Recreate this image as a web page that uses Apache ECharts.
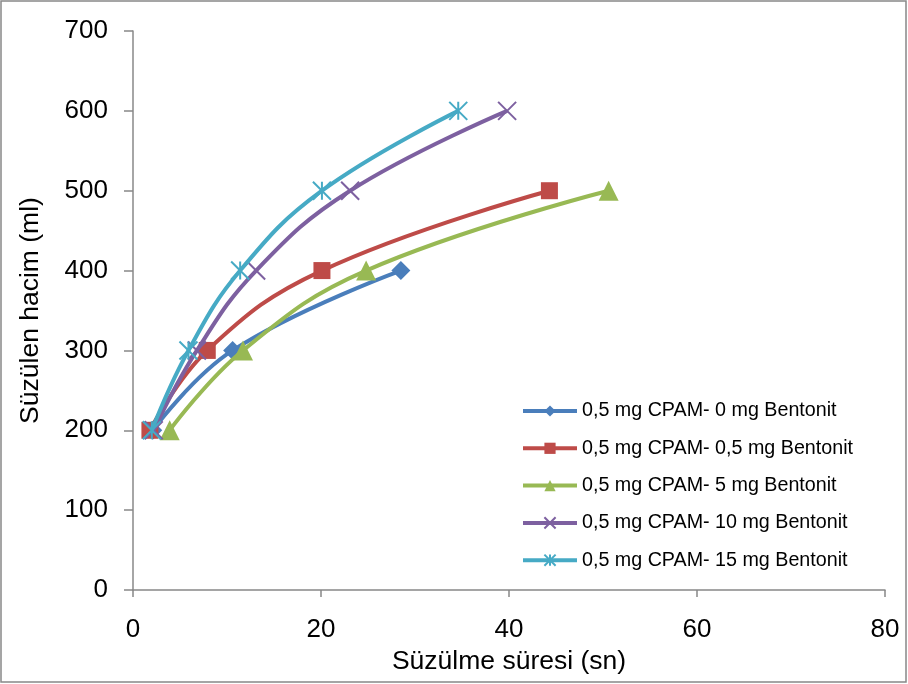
<!DOCTYPE html>
<html><head><meta charset="utf-8">
<script src="https://cdn.jsdelivr.net/npm/echarts@6/dist/echarts.min.js"></script>
<style>html,body{margin:0;padding:0;background:#fff}#c{width:908px;height:684px}</style>
</head><body><div id="c"></div>
<script>
const seriesNames = ["0,5 mg CPAM- 0 mg Bentonit","0,5 mg CPAM- 0,5 mg Bentonit","0,5 mg CPAM- 5 mg Bentonit","0,5 mg CPAM- 10 mg Bentonit","0,5 mg CPAM- 15 mg Bentonit"];
const s0x = [2.1, 10.6, 28.5];          const s0y = [200, 300, 400];
const s1x = [1.8, 7.9, 20.1, 44.3];     const s1y = [200, 300, 400, 500];
const s2x = [3.9, 11.7, 24.8, 50.6];    const s2y = [200, 300, 400, 500];
const s3x = [2.2, 6.8, 13.1, 23.1, 39.8]; const s3y = [200, 300, 400, 500, 600];
const s4x = [2.0, 5.9, 11.4, 20.1, 34.6]; const s4y = [200, 300, 400, 500, 600];
const xTicks = [0, 20, 40, 60, 80];
const yTicks = [0, 100, 200, 300, 400, 500, 600, 700];
const colors = ["#4a7ebb","#be4b48","#98b954","#7d60a0","#46aac5"];
const xs = [s0x,s1x,s2x,s3x,s4x], ys = [s0y,s1y,s2y,s3y,s4y];
const symbols = ['diamond','rect','triangle','path://M0,0L10,10M10,0L0,10','path://M0,0L10,10M10,0L0,10M5,0L5,10'];
const sizes = [19, 17, 20, 18, 18];
const chart = echarts.init(document.getElementById('c'));
const font = 'Liberation Sans, Arial, sans-serif';
chart.setOption({
  animation:false,
  color: colors,
  graphic:[{type:'rect', shape:{x:1,y:1,width:905,height:681}, style:{fill:'none', stroke:'#888', lineWidth:1.5}}],
  grid:{left:133, right:23, top:31, bottom:94},
  xAxis:{type:'value', min:0, max:80, interval:20, name:'Süzülme süresi (sn)', nameLocation:'middle', nameGap:56,
    nameTextStyle:{fontFamily:font, fontSize:26.5, color:'#000'},
    axisLine:{lineStyle:{color:'#888', width:1.5}}, axisTick:{show:true, inside:false, length:7, lineStyle:{color:'#888', width:1.5}},
    axisLabel:{fontFamily:font, fontSize:26, color:'#000', margin:27, formatter:v=>xTicks.includes(v)?String(v):''}, splitLine:{show:false}},
  yAxis:{type:'value', min:0, max:700, interval:100, name:'Süzülen hacim (ml)', nameLocation:'middle', nameGap:89, nameRotate:90,
    nameTextStyle:{fontFamily:font, fontSize:26.5, color:'#000'},
    axisLine:{show:true, lineStyle:{color:'#888', width:1.5}}, axisTick:{show:true, length:9, lineStyle:{color:'#888', width:1.5}},
    axisLabel:{fontFamily:font, fontSize:26, color:'#000', margin:25, formatter:v=>yTicks.includes(v)?String(v):''}, splitLine:{show:false}},
  legend:{orient:'vertical', left:521, top:401, padding:0, itemWidth:54, itemHeight:14, itemGap:17.3,
    textStyle:{fontFamily:font, fontSize:19.7, color:'#000'},
    lineStyle:{width:4},
    data: seriesNames},
  series: seriesNames.map((n,i)=>({
    name:n, type:'line', smooth:0.42, data: xs[i].map((x,j)=>[x, ys[i][j]]),
    symbol: symbols[i], symbolSize: sizes[i],
    lineStyle:{width:4, color:colors[i]},
    itemStyle:{color:colors[i], borderColor:colors[i], borderWidth: i>=3 ? 2 : 0},
    z: 2+i
  }))
});
</script></body></html>
